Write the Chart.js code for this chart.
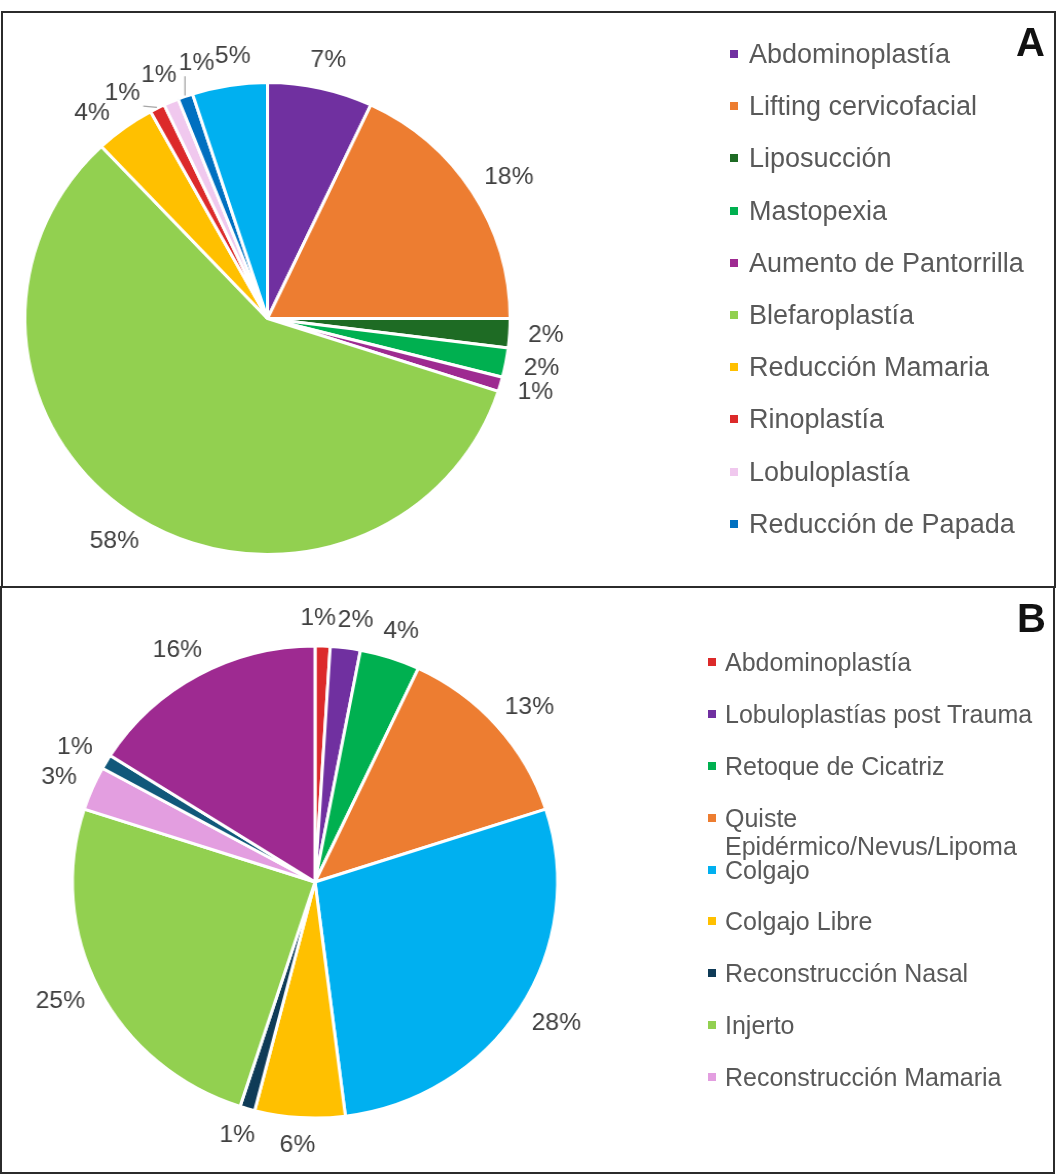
<!DOCTYPE html>
<html lang="es">
<head>
<meta charset="UTF-8" />
<title>Procedimientos A / B</title>
<script src="https://cdn.jsdelivr.net/npm/chart.js@4.4.1/dist/chart.umd.min.js"></script>
<style>
  html, body { margin: 0; padding: 0; background: #fff; }
  body { position: relative; width: 1057px; height: 1175px; overflow: hidden;
         font-family: "Liberation Sans", Arial, Helvetica, sans-serif; }
  .panel { position: absolute; box-sizing: border-box; border: 2px solid #2b2b2b; }
  #panelA { left: 1px; top: 11px; width: 1055px; height: 577px; }
  #panelB { left: 0; top: 586px; width: 1055px; height: 588px; }
  canvas { position: absolute; left: 0; }
  /* the source figure is slightly stretched horizontally, so the pies are too */
  #chartA { top: 0; transform: scaleX(1.028); transform-origin: 267.5px 318.5px; }
  #chartB { top: 587px; transform: scaleX(1.028); transform-origin: 315px 295px; }
  .letter { position: absolute; font-weight: bold; font-size: 40px; line-height: 40px; color: #111; }
  .legend { position: absolute; margin: 0; padding: 0; list-style: none; color: #595959; }
  .legend li { display: flex; align-items: flex-start; box-sizing: border-box; }
  .legend .box { flex: none; width: 8px; height: 8px; }
  #legendA { left: 730px; top: 28px; font-size: 27px; }
  #legendA li { height: 52.2px; padding-top: 10.1px; line-height: 32px; }
  #legendA .box { margin: 12px 11px 0 0; }
  #legendB { left: 708px; top: 636px; font-size: 25px; }
  #legendB li { height: 51.9px; padding-top: 11.95px; line-height: 28px; }
  #legendB .box { margin: 10px 9px 0 0; }
  #legendB .txt { max-width: 322px; }
</style>
</head>
<body>
  <div class="panel" id="panelA"></div>
  <div class="panel" id="panelB"></div>
  <canvas id="chartA" width="1057" height="587"></canvas>
  <canvas id="chartB" width="1057" height="588"></canvas>
  <div class="letter" style="left:1016px; top:22px;">A</div>
  <div class="letter" style="left:1017px; top:598px;">B</div>
  <ul class="legend" id="legendA"></ul>
  <ul class="legend" id="legendB"></ul>

<script>
  // A: procedimientos estéticos (la última porción no figura en la leyenda)
  const labelsA = ['Abdominoplastía', 'Lifting cervicofacial', 'Liposucción', 'Mastopexia',
    'Aumento de Pantorrilla', 'Blefaroplastía', 'Reducción Mamaria', 'Rinoplastía',
    'Lobuloplastía', 'Reducción de Papada', ''];
  const valuesA = [7, 18, 2, 2, 1, 58, 4, 1, 1, 1, 5];
  const colorsA = ['#7030A0', '#ED7D31', '#1E6B24', '#00B050', '#9E2A91', '#92D050',
    '#FFC000', '#DC2A2A', '#F0C8EE', '#0070C0', '#00B0F0'];

  // B: procedimientos reconstructivos (las dos últimas porciones no figuran en la leyenda)
  const labelsB = ['Abdominoplastía', 'Lobuloplastías post Trauma', 'Retoque de Cicatriz',
    'Quiste Epidérmico/Nevus/Lipoma', 'Colgajo', 'Colgajo Libre', 'Reconstrucción Nasal',
    'Injerto', 'Reconstrucción Mamaria', '', ''];
  const valuesB = [1, 2, 4, 13, 28, 6, 1, 25, 3, 1, 16];
  const colorsB = ['#DC2A2A', '#7030A0', '#00B050', '#ED7D31', '#00B0F0', '#FFC000',
    '#0F3B57', '#92D050', '#E39EE0', '#11587A', '#9E2A91'];

  // percentage labels outside the slices, spread apart when they collide
  const pctLabels = {
    id: 'pctLabels',
    afterDatasetsDraw(chart, args, opts) {
      const { ctx } = chart;
      const values = chart.data.datasets[0].data;
      const total = values.reduce((s, v) => s + v, 0);
      const arcs = chart.getDatasetMeta(0).data;
      ctx.save();
      ctx.font = opts.font;
      const place = it => {
        const c = Math.cos(it.ang), s = Math.sin(it.ang);
        const d = it.r + opts.offset;
        it.x = it.x0 + d * c + it.w / 2 * c;
        it.y = it.y0 + d * s + it.h / 2 * s;
        return it;
      };
      const items = arcs.map((arc, i) => {
        const p = arc.getProps(['x', 'y', 'startAngle', 'endAngle', 'outerRadius'], true);
        const text = Math.round(values[i] / total * 100) + '%';
        const mid = (p.startAngle + p.endAngle) / 2;
        return place({ text, mid, ang: mid, w: ctx.measureText(text).width, h: opts.boxHeight,
          x0: p.x, y0: p.y, r: p.outerRadius });
      });
      const hit = (a, b) => Math.abs(a.x - b.x) < (a.w + b.w) / 2 + opts.gap &&
                            Math.abs(a.y - b.y) < (a.h + b.h) / 2;
      for (let k = 0; k < 600; k++) {
        let moved = false;
        for (let i = 0; i < items.length; i++) {
          const a = items[i], b = items[(i + 1) % items.length];
          if (hit(a, b)) {
            a.ang -= 0.004; b.ang += 0.004;
            place(a); place(b);
            moved = true;
          }
        }
        if (!moved) break;
      }
      const clamp = (v, lo, hi) => Math.min(Math.max(v, lo), hi);
      ctx.strokeStyle = opts.leaderColor;
      ctx.lineWidth = 1.3;
      items.forEach(it => {
        if (Math.abs(it.ang - it.mid) < opts.leaderAfter) return;
        const rx = it.x0 + (it.r + 1) * Math.cos(it.mid);
        const ry = it.y0 + (it.r + 1) * Math.sin(it.mid);
        const nx = clamp(rx, it.x - it.w / 2 - 3, it.x + it.w / 2 + 3);
        const ny = clamp(ry, it.y - it.h / 2 - 3, it.y + it.h / 2 + 3);
        ctx.beginPath();
        ctx.moveTo(rx, ry);
        ctx.lineTo(nx, ny);
        ctx.stroke();
      });
      ctx.fillStyle = opts.color;
      ctx.textAlign = 'center';
      ctx.textBaseline = 'middle';
      items.forEach(it => ctx.fillText(it.text, it.x, it.y));
      ctx.restore();
    }
  };

  function makePie(id, labels, values, colors, cx, cy, r) {
    const canvas = document.getElementById(id);
    const W = canvas.width, H = canvas.height;
    return new Chart(canvas, {
      type: 'pie',
      data: {
        labels,
        datasets: [{
          data: values,
          backgroundColor: colors,
          borderColor: '#ffffff',
          borderWidth: 3
        }]
      },
      options: {
        responsive: false,
        animation: false,
        events: [],
        radius: r,
        layout: { padding: { left: cx - r, right: W - cx - r, top: cy - r, bottom: H - cy - r } },
        plugins: {
          legend: { display: false },
          tooltip: { enabled: false },
          pctLabels: {
            font: '24px "Liberation Sans", Arial, sans-serif',
            color: '#404040',
            leaderColor: '#a6a6a6',
            offset: 18,
            boxHeight: 20,
            gap: 0,
            leaderAfter: 0.06
          }
        }
      },
      plugins: [pctLabels]
    });
  }

  function buildLegend(chart, listId) {
    const items = chart.options.plugins.legend.labels.generateLabels(chart)
      .filter(it => it.text !== '');
    document.getElementById(listId).innerHTML = items.map(it =>
      `<li><span class="box" style="background:${it.fillStyle}"></span><span class="txt">${it.text}</span></li>`
    ).join('');
  }

  const chartA = makePie('chartA', labelsA, valuesA, colorsA, 267.5, 318.5, 236);
  const chartB = makePie('chartB', labelsB, valuesB, colorsB, 315, 295, 236);
  buildLegend(chartA, 'legendA');
  buildLegend(chartB, 'legendB');
</script>
</body>
</html>
